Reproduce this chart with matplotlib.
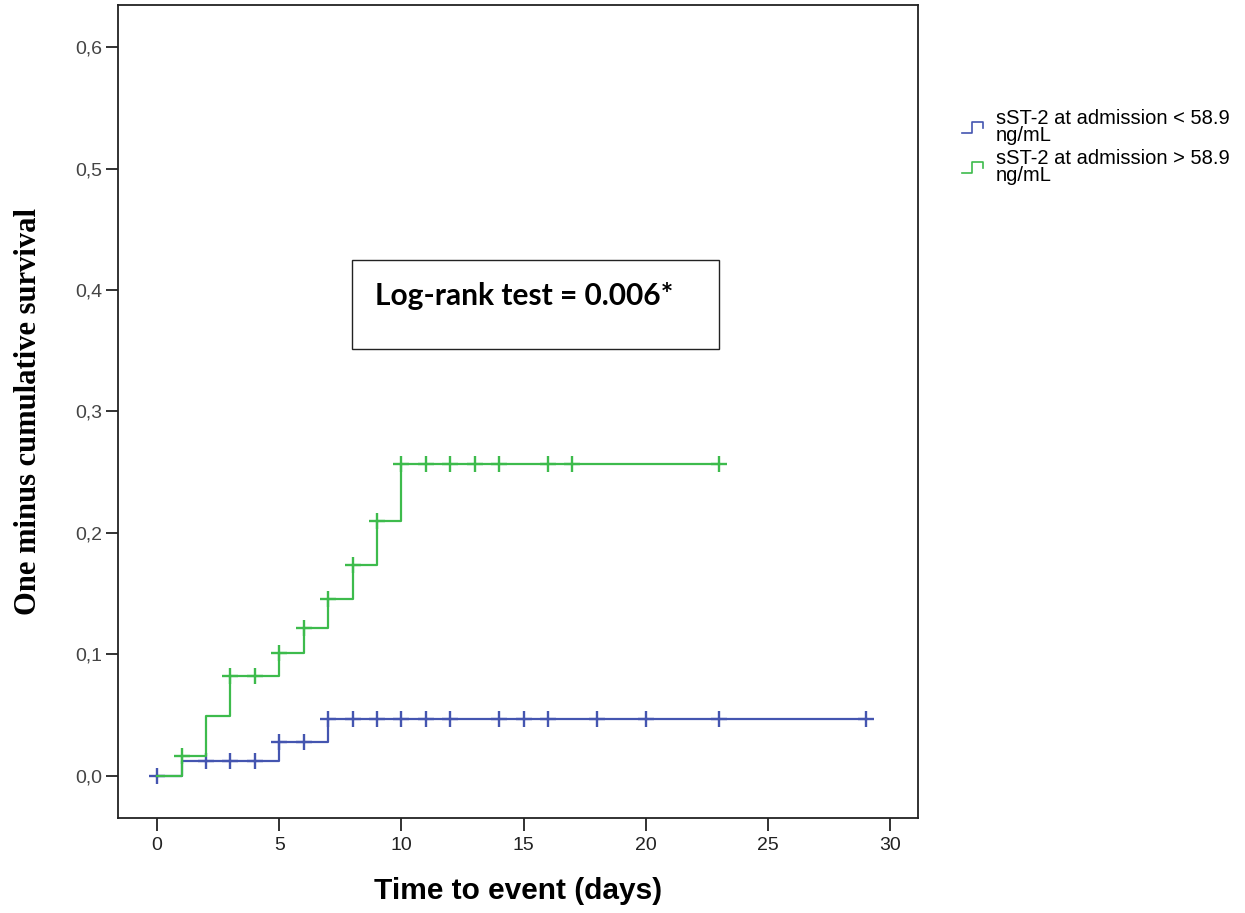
import matplotlib
matplotlib.use("Agg")
import matplotlib.pyplot as plt
import numpy as np
from matplotlib.legend_handler import HandlerBase
from matplotlib.lines import Line2D
from matplotlib.patches import Rectangle

# ---------------- data ----------------
low_times = [0, 1, 5, 7, 29]
low_values = [0.0, 0.012, 0.028, 0.047, 0.047]
low_censor = [0, 2, 3, 4, 5, 6, 7, 8, 9, 10, 11, 12, 14, 15, 16, 18, 20, 23, 29]

high_times = [0, 1, 2, 3, 5, 6, 7, 8, 9, 10, 23]
high_values = [0.0, 0.016, 0.049, 0.082, 0.101, 0.122, 0.146, 0.174, 0.210, 0.257, 0.257]
high_censor = [1, 3, 4, 5, 6, 7, 8, 9, 10, 11, 12, 13, 14, 16, 17, 23]

series_labels = ["sST-2 at admission < 58.9\nng/mL", "sST-2 at admission > 58.9\nng/mL"]
x_ticks = [0, 5, 10, 15, 20, 25, 30]
y_ticks = [0.0, 0.1, 0.2, 0.3, 0.4, 0.5, 0.6]
y_ticklabels = ["0,0", "0,1", "0,2", "0,3", "0,4", "0,5", "0,6"]
x_label = "Time to event (days)"
y_label = "One minus cumulative survival"
annotation = "Log-rank test = 0.006*"

BLUE = "#4455b0"
GREEN = "#3dbb4c"

fig = plt.figure(figsize=(12.45, 9.13), dpi=100)
ax = fig.add_axes([0.0948, 0.1041, 0.6426, 0.8904])


def step_value(times, values, t):
    idx = np.searchsorted(np.asarray(times), t, side="right") - 1
    return np.asarray(values)[idx]


for times, values, cens, col in [
    (low_times, low_values, low_censor, BLUE),
    (high_times, high_values, high_censor, GREEN),
]:
    ax.step(times, values, where="post", color=col, lw=1.6)
    cy = [step_value(times, values, c) for c in cens]
    ax.plot(cens, cy, linestyle="none", marker="+", ms=12, mew=1.7, color=col)

ax.set_xlim(-1.6, 31.15)
ax.set_ylim(-0.0346, 0.6346)
ax.set_xticks(x_ticks)
ax.set_xticklabels([str(t) for t in x_ticks], fontfamily="Liberation Sans", fontsize=14)
ax.set_yticks(y_ticks)
ax.set_yticklabels(y_ticklabels, fontfamily="Liberation Sans", fontsize=14)
ax.tick_params(axis="both", direction="out", length=9, width=1.3, colors="#222222")
ax.tick_params(axis="y", pad=2, labelcolor="#444444")
ax.tick_params(axis="x", pad=5)
for s in ax.spines.values():
    s.set_linewidth(1.3)
    s.set_color("#222222")

ax.set_xlabel(x_label, fontfamily="Liberation Sans", fontweight="bold", fontsize=21.5)
ax.xaxis.set_label_coords(0.5, -0.073)
ax.set_ylabel(y_label, fontfamily="Liberation Serif", fontweight="bold", fontsize=22)
ax.yaxis.set_label_coords(-0.094, 0.5)

# log-rank box
ax.add_patch(Rectangle((0.2925, 0.5769), 0.459, 0.1095, transform=ax.transAxes,
                       facecolor="white", edgecolor="#222222", lw=1.0))
ax.text(0.321, 0.642, annotation, transform=ax.transAxes, ha="left", va="center",
        fontfamily="Lato", fontweight="bold", fontsize=21.5)


class StepHandler(HandlerBase):
    def create_artists(self, legend, orig_handle, xdescent, ydescent, width,
                       height, fontsize, trans):
        w, h = width, height
        xs = [0, 0.35 * w, 0.35 * w, 0.75 * w, 0.75 * w]
        ys = [0.1 * h, 0.1 * h, 0.9 * h, 0.9 * h, 0.5 * h]
        ln = Line2D(xs, ys, color=orig_handle.get_color(), lw=1.2, transform=trans)
        return [ln]


handles = [Line2D([], [], color=BLUE), Line2D([], [], color=GREEN)]
leg = fig.legend(handles, series_labels, loc="upper left",
                 bbox_to_anchor=(0.766, 0.889), frameon=False,
                 handler_map={Line2D: StepHandler()},
                 prop={"family": "Liberation Sans", "size": 14.5},
                 handlelength=1.4, handletextpad=0.3, labelspacing=0.2,
                 borderaxespad=0)
for t in leg.get_texts():
    t.set_linespacing(0.85)

fig.savefig("out.png", dpi=100)
